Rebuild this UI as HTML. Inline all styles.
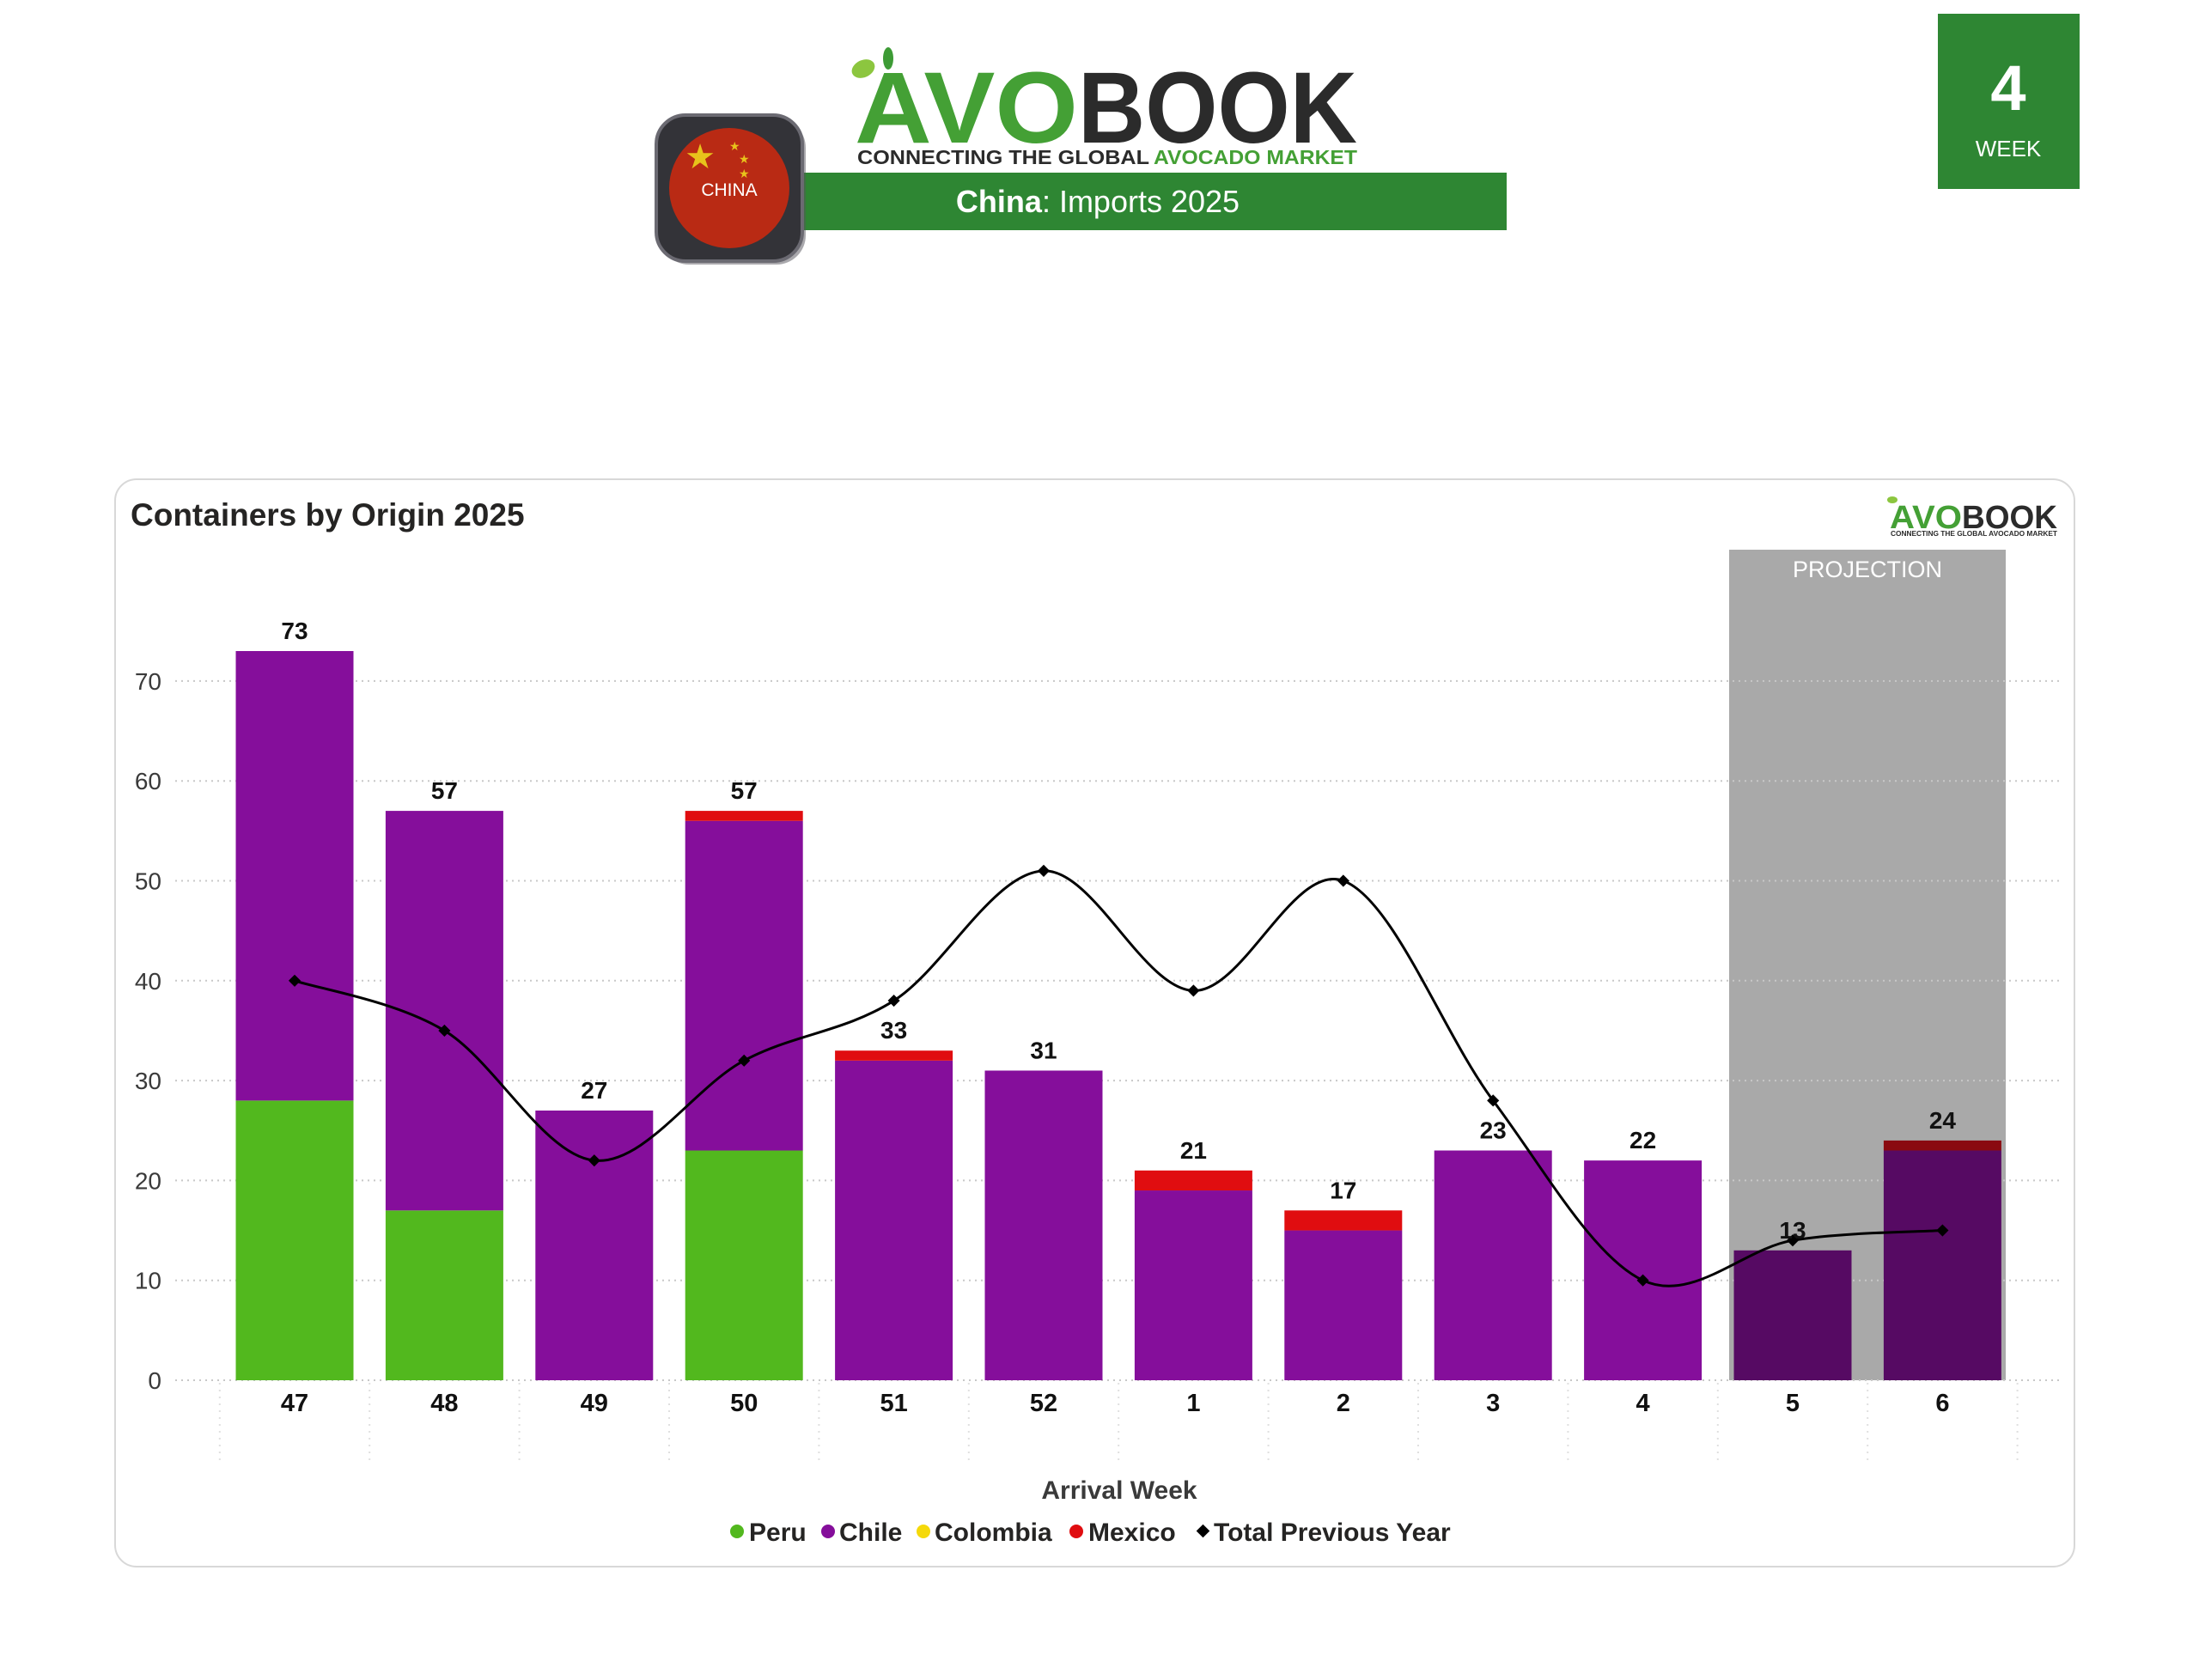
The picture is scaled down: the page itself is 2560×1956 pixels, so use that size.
<!DOCTYPE html>
<html><head><meta charset="utf-8"><style>
html,body{margin:0;padding:0;background:#fff;}
body{width:2560px;height:1951px;overflow:hidden;font-family:"Liberation Sans",sans-serif;}
</style></head><body>
<svg id="chart" width="2560" height="1951" viewBox="0 0 2560 1951" xmlns="http://www.w3.org/2000/svg" font-family="Liberation Sans, sans-serif">
  <!-- header -->
  <g>
    <ellipse cx="1005" cy="80" rx="14" ry="10" fill="#8cc63f" transform="rotate(-25 1005 80)"/>
    <ellipse cx="1034" cy="68" rx="6" ry="13" fill="#3d9b35"/>
    <text x="995" y="166" font-size="118" font-weight="bold" fill="#44a035" textLength="260" lengthAdjust="spacingAndGlyphs">AVO</text>
    <text x="1255" y="166" font-size="118" font-weight="bold" fill="#2b2b2b" textLength="325" lengthAdjust="spacingAndGlyphs">BOOK</text>
    <text x="998" y="191" font-size="23" font-weight="bold" fill="#2b2b2b" textLength="340" lengthAdjust="spacingAndGlyphs">CONNECTING THE GLOBAL</text>
    <text x="1343" y="191" font-size="23" font-weight="bold" fill="#44a035" textLength="237" lengthAdjust="spacingAndGlyphs">AVOCADO MARKET</text>
  </g>
  <rect x="805" y="201" width="949" height="67" fill="#2e8633"/>
  <text x="1278" y="247" font-size="36" fill="#fff" text-anchor="middle"><tspan font-weight="bold">China</tspan>: Imports 2025</text>
  <g>
    <rect x="768" y="138" width="170" height="170" rx="34" fill="#55545c" opacity="0.5"/>
    <rect x="764" y="134" width="170" height="170" rx="34" fill="#333338" stroke="#6b6a72" stroke-width="4"/>
    <circle cx="849" cy="219" r="70" fill="#b92a14"/>
    <text x="815" y="196" font-size="40" fill="#e8c21b" text-anchor="middle">★</text>
    <text x="849" y="175" font-size="14" fill="#e8c21b">★</text>
    <text x="860" y="190" font-size="14" fill="#e8c21b">★</text>
    <text x="860" y="207" font-size="14" fill="#e8c21b">★</text>
    <text x="849" y="228" font-size="21" fill="#fff" text-anchor="middle">CHINA</text>
  </g>
  <g>
    <rect x="2256" y="16" width="165" height="204" fill="#2e8633"/>
    <text x="2338" y="128" font-size="74" font-weight="bold" fill="#fff" text-anchor="middle">4</text>
    <text x="2338" y="182" font-size="26" fill="#fff" text-anchor="middle">WEEK</text>
  </g>
  <!-- card -->
  <rect x="134" y="558" width="2281" height="1266" rx="25" fill="#fff" stroke="#d8d8d8" stroke-width="2"/>
  <text x="152" y="612" font-size="37" font-weight="bold" fill="#252423">Containers by Origin 2025</text>
  <g>
    <ellipse cx="2203" cy="582" rx="6" ry="4" fill="#8cc63f"/>
    <text x="2200" y="615" font-size="38" font-weight="bold" fill="#44a035" textLength="84" lengthAdjust="spacingAndGlyphs">AVO</text>
    <text x="2284" y="615" font-size="38" font-weight="bold" fill="#2b2b2b" textLength="111" lengthAdjust="spacingAndGlyphs">BOOK</text>
    <text x="2201" y="624" font-size="8" font-weight="bold" fill="#2b2b2b" textLength="194" lengthAdjust="spacingAndGlyphs">CONNECTING THE GLOBAL AVOCADO MARKET</text>
  </g>
  <rect x="2013" y="640" width="322" height="967" fill="#a9a9a9"/>
  <text x="2174" y="672" font-size="27" fill="#fff" text-anchor="middle">PROJECTION</text>
  <g id="grid"></g>
  <g id="bars"></g>
  <g id="line"></g>
  <g id="labels"></g>
  <text x="1303" y="1745" font-size="30" font-weight="bold" fill="#3a3a3a" text-anchor="middle">Arrival Week</text>
  <g font-size="30" font-weight="bold" fill="#252423">
    <g><circle cx="858" cy="1783" r="8" fill="#52b81e"/><text x="872" y="1794">Peru</text></g>
    <g><circle cx="964" cy="1783" r="8" fill="#850e9b"/><text x="977" y="1794">Chile</text></g>
    <g><circle cx="1075" cy="1783" r="8" fill="#f5d90a"/><text x="1088" y="1794">Colombia</text></g>
    <g><circle cx="1253" cy="1783" r="8" fill="#e00d10"/><text x="1267" y="1794">Mexico</text></g>
    <g><rect x="1395" y="1777" width="11" height="11" fill="#000" transform="rotate(45 1400.5 1782.5)"/><text x="1413" y="1794">Total Previous Year</text></g>
  </g>
</svg>
<script>
const categories = ["47","48","49","50","51","52","1","2","3","4","5","6"];
const peru = [28,17,0,23,0,0,0,0,0,0,0,0];
const chile = [45,40,27,33,32,31,19,15,23,22,13,23];
const colombia = [0,0,0,0,0,0,0,0,0,0,0,0];
const mexico = [0,0,0,1,1,0,2,2,0,0,0,1];
const previousYear = [40,35,22,32,38,51,39,50,28,10,14,15];
const projected = [false,false,false,false,false,false,false,false,false,false,true,true];
const yTicks = [0,10,20,30,40,50,60,70];

const NS = "http://www.w3.org/2000/svg";
const x0 = 256, step = 174.4, bw = 137;
const yBase = 1607, perUnit = 11.63;
const xC = i => x0 + step * (i + 0.5) - step/2 + step/2 + 0; // center
function xCenter(i){ return 343 + step * i; }
function yS(v){ return yBase - v * perUnit; }
function mk(tag, attrs, parent){ const e=document.createElementNS(NS,tag); for(const k in attrs) e.setAttribute(k,attrs[k]); parent.appendChild(e); return e; }

const grid = document.getElementById('grid');
yTicks.forEach(t=>{
  const l = mk('line',{x1:204,x2:2400,y1:yS(t),y2:yS(t),stroke:'#c8c8c8','stroke-width':2,'stroke-dasharray':'2 5'},grid);
  
  
  const tx = mk('text',{x:188,y:yS(t)+10,'font-size':28,fill:'#3a3a3a','text-anchor':'end'},grid);
  tx.textContent = t;
  
  
});
for(let i=0;i<=categories.length;i++){
  const xx = xCenter(i) - step/2;
  const l = mk('line',{x1:xx,x2:xx,y1:1610,y2:1706,stroke:'#e0e0e0','stroke-width':2,'stroke-dasharray':'2 6'},grid);
  
  
}

const bars = document.getElementById('bars');
const labels = document.getElementById('labels');
categories.forEach((c,i)=>{
  const cx = xCenter(i);
  let acc = 0;
  const series = [
    ['peru', peru[i], '#52b81e'],
    ['chile', chile[i], projected[i] ? '#560a63' : '#850e9b'],
    ['colombia', colombia[i], '#f5d90a'],
    ['mexico', mexico[i], projected[i] ? '#8a0a10' : '#e00d10']
  ];
  series.forEach(([name,v,col])=>{
    if(v<=0) return;
    const r = mk('rect',{x:cx-bw/2,y:yS(acc+v),width:bw,height:v*perUnit,fill:col},bars);
    
    
    acc += v;
  });
  const tv = mk('text',{x:cx,y:yS(acc)-14,'font-size':28,'font-weight':'bold',fill:'#111','text-anchor':'middle'},labels);
  tv.textContent = acc;
  
  
  const xl = mk('text',{x:cx,y:1643,'font-size':29,'font-weight':'bold',fill:'#111','text-anchor':'middle'},labels);
  xl.textContent = c;
  
  
});

const line = document.getElementById('line');
const pts = previousYear.map((v,i)=>[xCenter(i), yS(v)]);
let d = 'M'+pts[0][0]+','+pts[0][1];
for(let i=0;i<pts.length-1;i++){
  const p0=pts[Math.max(i-1,0)], p1=pts[i], p2=pts[i+1], p3=pts[Math.min(i+2,pts.length-1)];
  const t=1/6;
  d += ' C'+(p1[0]+(p2[0]-p0[0])*t)+','+(p1[1]+(p2[1]-p0[1])*t)+' '+(p2[0]-(p3[0]-p1[0])*t)+','+(p2[1]-(p3[1]-p1[1])*t)+' '+p2[0]+','+p2[1];
}
const path = mk('path',{d:d,fill:'none',stroke:'#000','stroke-width':3},line);


pts.forEach((p,i)=>{
  const m = mk('rect',{x:p[0]-5,y:p[1]-5,width:10,height:10,fill:'#000',transform:'rotate(45 '+p[0]+' '+p[1]+')'},line);
  
  
});
</script>
</body></html>
